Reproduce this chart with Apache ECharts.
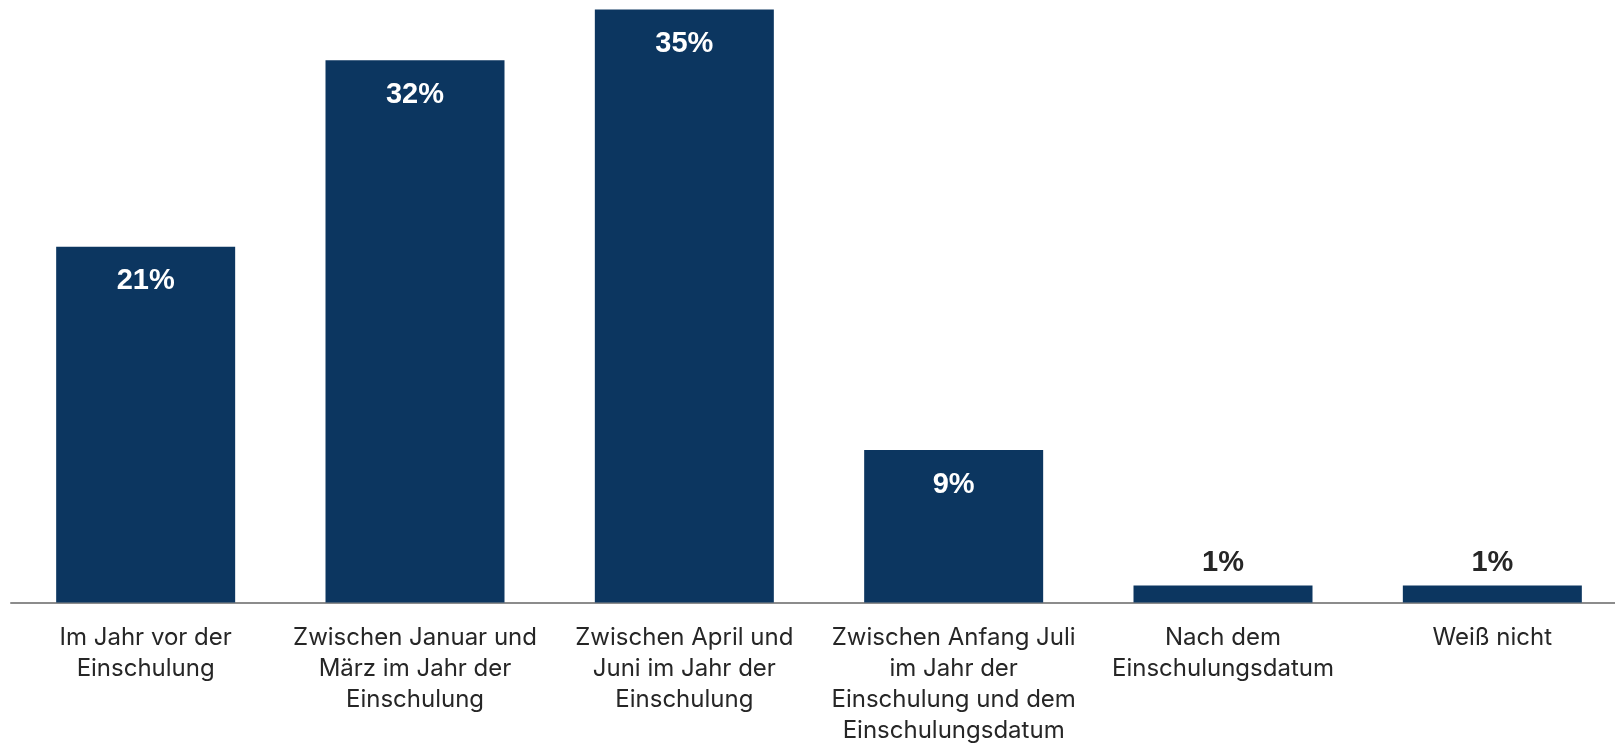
<!DOCTYPE html>
<html>
<head>
<meta charset="utf-8">
<script src="https://cdn.jsdelivr.net/npm/echarts@6/dist/echarts.min.js"></script>
<style>
  html, body { margin: 0; padding: 0; background: #fff; overflow: hidden; }
  #myChart { width: 1615px; height: 745px; }
</style>
</head>
<body>
<div id="myChart"></div>
<script>
// Zeitpunkt der Schulanmeldung (Anteile in %)
var categories = [
    'Im Jahr vor der\nEinschulung',
    'Zwischen Januar und\nMärz im Jahr der\nEinschulung',
    'Zwischen April und\nJuni im Jahr der\nEinschulung',
    'Zwischen Anfang Juli\nim Jahr der\nEinschulung und dem\nEinschulungsdatum',
    'Nach dem\nEinschulungsdatum',
    'Weiß nicht'
];
var values = [21, 32, 35, 9, 1, 1];

var barColor = '#0c3660';
var fontFam = '"Liberation Sans", Arial, sans-serif';

// kleine Balken bekommen das Label oberhalb
var seriesData = values.map(function (v) {
    if (v < 5) {
        return {
            value: v,
            label: { position: 'top', distance: 8, color: '#262626' }
        };
    }
    return { value: v };
});

var option = {
    animation: false,
    grid: {
        top: 1,
        left: 11,
        width: 1616,
        bottom: 142.5,
        outerBoundsMode: 'none',
        containLabel: false
    },
    xAxis: {
        type: 'category',
        data: categories,
        axisLine: { lineStyle: { color: '#8c8c8c', width: 2 } },
        axisTick: { show: false },
        axisLabel: {
            interval: 0,
            margin: 20,
            color: '#262626',
            fontFamily: 'Inter, "Liberation Sans", sans-serif',
            fontSize: 24,
            lineHeight: 31
        }
    },
    yAxis: {
        type: 'value',
        min: 0,
        max: 35.5,
        show: false,
        splitLine: { show: false }
    },
    series: [{
        type: 'bar',
        data: seriesData,
        barWidth: 179,
        itemStyle: { color: barColor },
        label: {
            show: true,
            position: 'insideTop',
            distance: 20,
            formatter: '{c}%',
            color: '#fff',
            fontFamily: fontFam,
            fontWeight: 'bold',
            fontSize: 29
        }
    }]
};

var myChart = echarts.init(document.getElementById('myChart'));
myChart.setOption(option);

window.onresize = function () {
    myChart.resize();
}
</script>
</body>
</html>
